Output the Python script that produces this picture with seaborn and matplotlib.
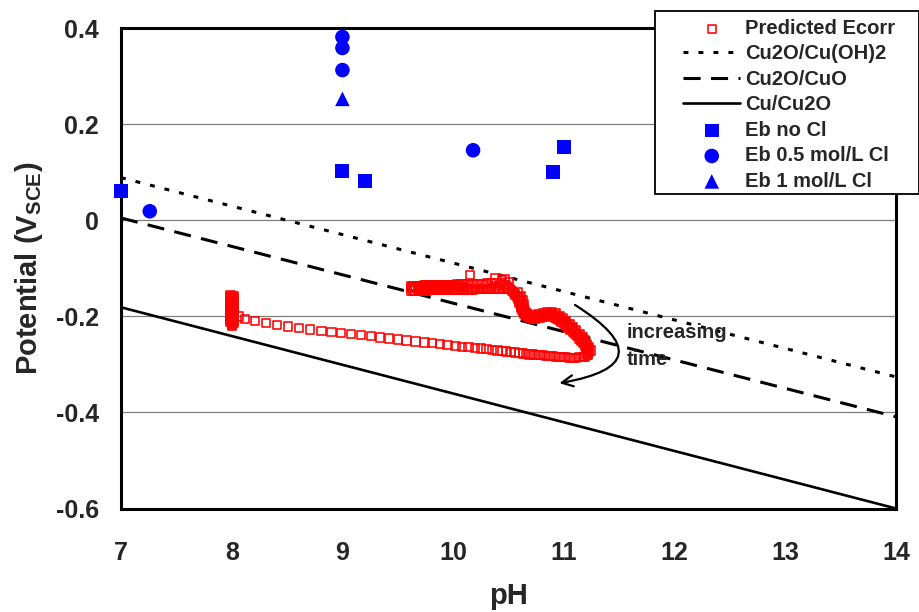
import numpy as np
import pandas as pd
import seaborn as sns
import matplotlib
matplotlib.use("Agg")
import matplotlib.pyplot as plt
from matplotlib.patches import Rectangle

# ---------------- data ----------------
ph_line = [7.0, 14.0]
cu_cu2o = [-0.181, -0.600]
cu2o_cuo = [0.005, -0.409]
cu2o_cuoh2 = [0.089, -0.326]

eb_nocl_ph = [7.0, 9.0, 9.2, 10.9, 11.0]
eb_nocl_v = [0.061, 0.103, 0.082, 0.100, 0.153]
eb_05_ph = [9.0, 9.0, 9.0, 7.26, 10.18]
eb_05_v = [0.382, 0.359, 0.313, 0.019, 0.146]
eb_1_ph = [9.0]
eb_1_v = [0.253]

# Predicted Ecorr
ec_a_ph = [7.99, 8.02, 7.99, 8.02, 7.99, 8.02, 7.99, 8.02, 7.99, 8.02, 7.99, 8.02, 7.99, 8.02, 7.99, 8.02,
           7.99, 8.02, 7.99, 8.02, 7.99, 8.02, 7.99, 8.02, 7.99, 8.02, 7.99, 8.02, 7.99, 8.02, 8.00, 8.00]
ec_a_v = [-0.156, -0.158, -0.160, -0.162, -0.164, -0.166, -0.168, -0.170, -0.172, -0.174, -0.176, -0.178,
          -0.180, -0.182, -0.184, -0.186, -0.188, -0.190, -0.192, -0.194, -0.196, -0.198, -0.200, -0.202,
          -0.204, -0.206, -0.208, -0.210, -0.212, -0.214, -0.216, -0.219]
ec_a2_ph = [8.005, 8.005, 8.005, 8.005, 8.005, 8.005, 8.005, 8.005, 8.005, 8.005, 8.005, 8.005, 8.005,
            8.005, 8.005, 8.005]
ec_a2_v = [-0.157, -0.161, -0.165, -0.169, -0.173, -0.177, -0.181, -0.185, -0.189, -0.193, -0.197, -0.201,
           -0.205, -0.209, -0.213, -0.217]
ec_b1_ph = [9.62, 9.64, 9.66, 9.68, 9.70, 9.72, 9.74, 9.76, 9.78, 9.80, 9.82, 9.84, 9.86, 9.88, 9.90, 9.92,
            9.94, 9.96, 9.98, 10.00, 10.02, 10.04, 10.07, 10.10, 10.13, 10.16, 10.19, 10.22, 10.25, 10.28,
            10.31, 10.34, 10.37, 10.15, 10.38]
ec_b1_v = [-0.136, -0.136, -0.136, -0.136, -0.136, -0.136, -0.135, -0.135, -0.135, -0.135, -0.135, -0.135,
           -0.135, -0.135, -0.134, -0.134, -0.134, -0.134, -0.134, -0.134, -0.134, -0.133, -0.133, -0.133,
           -0.133, -0.133, -0.132, -0.132, -0.132, -0.132, -0.131, -0.131, -0.131, -0.114, -0.120]
ec_b2_ph = [9.62, 9.64, 9.66, 9.68, 9.70, 9.72, 9.74, 9.76, 9.78, 9.80, 9.82, 9.84, 9.86, 9.88, 9.90, 9.92,
            9.94, 9.96, 9.98, 10.00, 10.02, 10.04, 10.06, 10.08, 10.10, 10.12, 10.14, 10.16, 10.18, 10.20,
            10.22, 10.24, 10.26, 10.28, 10.30, 10.32, 10.34, 10.36, 10.38, 10.40, 10.42, 10.44, 10.46]
ec_b2_v = [-0.146, -0.146, -0.146, -0.146, -0.146, -0.146, -0.146, -0.146, -0.145, -0.145, -0.145, -0.145,
           -0.145, -0.145, -0.145, -0.145, -0.145, -0.145, -0.145, -0.144, -0.144, -0.144, -0.144, -0.144,
           -0.144, -0.144, -0.144, -0.144, -0.144, -0.143, -0.143, -0.143, -0.143, -0.143, -0.143, -0.143,
           -0.143, -0.142, -0.142, -0.142, -0.142, -0.142, -0.142]
ec_b3_ph = [9.62, 9.64, 9.66, 9.68, 9.70, 9.72, 9.74, 9.76, 9.78, 9.80, 9.82, 9.84, 9.86, 9.88, 9.90, 9.92,
            9.94, 9.96, 9.98, 10.00, 10.02, 10.04, 10.06, 10.08, 10.10]
ec_b3_v = [-0.141, -0.141, -0.141, -0.141, -0.141, -0.141, -0.141, -0.141, -0.140, -0.140, -0.140, -0.140,
           -0.140, -0.140, -0.140, -0.140, -0.140, -0.140, -0.139, -0.139, -0.139, -0.139, -0.139, -0.139,
           -0.139]
ec_c_ph = [10.48, 10.50, 10.47, 10.44, 10.43, 10.46, 10.49, 10.51, 10.53, 10.55, 10.56, 10.58, 10.59, 10.60,
           10.60, 10.61, 10.61, 10.61, 10.62, 10.63, 10.64, 10.66, 10.68, 10.70, 10.72, 10.74, 10.76, 10.78,
           10.80, 10.82, 10.84, 10.86, 10.88, 10.90, 10.92, 10.94, 10.96, 10.98, 11.00, 11.02, 11.04, 11.06,
           11.08, 11.10, 11.12, 11.14, 11.16, 11.17, 11.19, 11.20, 11.21, 11.22, 11.21, 11.19]
ec_c_v = [-0.135, -0.128, -0.123, -0.125, -0.130, -0.135, -0.140, -0.143, -0.147, -0.151, -0.155, -0.159,
          -0.163, -0.167, -0.171, -0.175, -0.179, -0.183, -0.187, -0.191, -0.195, -0.198, -0.201, -0.203,
          -0.204, -0.204, -0.203, -0.202, -0.201, -0.200, -0.199, -0.199, -0.199, -0.200, -0.202, -0.205,
          -0.208, -0.211, -0.215, -0.219, -0.223, -0.227, -0.232, -0.236, -0.241, -0.246, -0.251, -0.256,
          -0.261, -0.266, -0.271, -0.276, -0.280, -0.284]
ec_c2_ph = [10.58, 10.61, 10.63, 10.64, 10.64, 10.65, 10.67, 10.70, 10.73, 10.77, 10.81, 10.85, 10.89,
            10.93, 10.96, 10.99, 11.02, 11.05, 11.08, 11.11, 11.14, 11.17, 11.19, 11.21, 11.23, 11.24]
ec_c2_v = [-0.150, -0.158, -0.166, -0.174, -0.182, -0.189, -0.194, -0.197, -0.198, -0.196, -0.194, -0.192,
           -0.192, -0.194, -0.199, -0.204, -0.210, -0.216, -0.222, -0.229, -0.236, -0.243, -0.250, -0.257,
           -0.264, -0.271]
ec_c3_ph = [10.56, 10.59, 10.61, 10.62, 10.63, 10.64, 10.66, 10.69, 10.72, 10.76, 10.80, 10.84, 10.88,
            10.92, 10.95, 10.98, 11.01, 11.04, 11.07, 11.10, 11.13, 11.16, 11.18, 11.20, 11.22, 11.23, 11.22]
ec_c3_v = [-0.153, -0.160, -0.168, -0.176, -0.184, -0.191, -0.196, -0.200, -0.201, -0.200, -0.198, -0.196,
           -0.195, -0.197, -0.201, -0.207, -0.212, -0.219, -0.225, -0.232, -0.239, -0.246, -0.253, -0.260,
           -0.267, -0.274, -0.281]
ec_d_ph = [11.17, 11.14, 11.11, 11.08, 11.05, 11.02, 10.99, 10.96, 10.93, 10.90, 10.87, 10.84, 10.81, 10.78,
           10.75, 10.72, 10.69, 10.66, 10.63, 10.60, 10.56, 10.52, 10.48, 10.44, 10.40, 10.35, 10.30, 10.25,
           10.20, 10.14, 10.08, 10.02, 9.95, 9.88, 9.81, 9.74, 9.66, 9.58, 9.50, 9.42, 9.34, 9.26, 9.17,
           9.08, 8.99, 8.90, 8.81, 8.71, 8.61, 8.51, 8.41, 8.31, 8.21, 8.12, 8.06]
ec_d_v = [-0.285, -0.285, -0.286, -0.286, -0.286, -0.285, -0.285, -0.284, -0.284, -0.283, -0.283, -0.282,
          -0.281, -0.281, -0.280, -0.279, -0.279, -0.278, -0.277, -0.276, -0.275, -0.274, -0.273, -0.272,
          -0.271, -0.270, -0.268, -0.267, -0.266, -0.264, -0.263, -0.261, -0.259, -0.258, -0.256, -0.254,
          -0.252, -0.250, -0.248, -0.246, -0.244, -0.241, -0.239, -0.237, -0.235, -0.233, -0.230, -0.227,
          -0.224, -0.221, -0.218, -0.214, -0.210, -0.205, -0.200]

x_ticks = [7, 8, 9, 10, 11, 12, 13, 14]
y_ticks = [-0.6, -0.4, -0.2, 0.0, 0.2, 0.4]
y_tick_labels = ["-0.6", "-0.4", "-0.2", "0", "0.2", "0.4"]

# ---------------- style ----------------
sns.set_style("white")
plt.rcParams["font.family"] = ["Liberation Sans", "DejaVu Sans"]
plt.rcParams["font.weight"] = "bold"
plt.rcParams["mathtext.fontset"] = "custom"
plt.rcParams["mathtext.rm"] = "Liberation Sans:bold"
plt.rcParams["mathtext.bf"] = "Liberation Sans:bold"

W, H = 919, 612
fig = plt.figure(figsize=(W / 100, H / 100), dpi=100)
ax = fig.add_axes([121 / W, 1 - 508.5 / H, (896 - 121) / W, (508.5 - 28.3) / H])

ecorr = pd.DataFrame({
    "ph": ec_a_ph + ec_a2_ph + ec_b1_ph + ec_b2_ph + ec_b3_ph + ec_c_ph + ec_c2_ph + ec_c3_ph + ec_d_ph,
    "v": ec_a_v + ec_a2_v + ec_b1_v + ec_b2_v + ec_b3_v + ec_c_v + ec_c2_v + ec_c3_v + ec_d_v,
})

# lines
sns.lineplot(x=ph_line, y=cu2o_cuoh2, ax=ax, color="black", linewidth=2.2, label="Cu2O/Cu(OH)2")
ax.lines[-1].set_linestyle((0, (1.6, 3.3)))
sns.lineplot(x=ph_line, y=cu2o_cuo, ax=ax, color="black", linewidth=2.2, label="Cu2O/CuO")
ax.lines[-1].set_linestyle((0, (5.6, 3.4)))
sns.lineplot(x=ph_line, y=cu_cu2o, ax=ax, color="black", linewidth=1.9, label="Cu/Cu2O")

sns.scatterplot(data=ecorr, x="ph", y="v", ax=ax, marker="s", s=36, facecolors="none",
                edgecolors="#ff0000", linewidths=1.15, label="Predicted Ecorr", zorder=4)
sns.scatterplot(x=eb_nocl_ph, y=eb_nocl_v, ax=ax, marker="s", s=100, color="#0000ff",
                edgecolor="none", label="Eb no Cl", zorder=5, clip_on=False)
sns.scatterplot(x=eb_05_ph, y=eb_05_v, ax=ax, marker="o", s=110, color="#0000ff",
                edgecolor="none", label="Eb 0.5 mol/L Cl", zorder=5, clip_on=False)
sns.scatterplot(x=eb_1_ph, y=eb_1_v, ax=ax, marker="^", s=110, color="#0000ff",
                edgecolor="none", label="Eb 1 mol/L Cl", zorder=5, clip_on=False)

# axes
ax.set_xlim(7, 14)
ax.set_ylim(-0.6, 0.4)
ax.set_xticks(x_ticks)
ax.set_xticklabels([str(t) for t in x_ticks])
ax.set_yticks(y_ticks)
ax.set_yticklabels(y_tick_labels)
ax.yaxis.grid(True, color="#7f7f7f", linewidth=0.9)
ax.set_axisbelow(True)
for sp in ax.spines.values():
    sp.set_visible(True)
    sp.set_color("black")
    sp.set_linewidth(2.2)
ax.tick_params(axis="x", direction="out", length=6.5, width=0.8, color="black", pad=17,
               labelsize=18)
ax.tick_params(axis="y", direction="out", length=5, width=0.8, color="black", pad=11,
               labelsize=18)
for lab in ax.get_xticklabels() + ax.get_yticklabels():
    lab.set_fontweight("bold")
ax.set_xlabel("pH", fontsize=21, fontweight="bold", labelpad=12)
ax.set_ylabel(r"Potential (V$_{\mathrm{SCE}}$)", fontsize=21, fontweight="bold", labelpad=8)

# annotation
ax.annotate("", xy=(10.96, -0.339), xytext=(11.10, -0.176),
            arrowprops=dict(arrowstyle="->,head_length=0.8,head_width=0.4",
                            connectionstyle="arc3,rad=-1.3", lw=1.6, color="black",
                            shrinkA=0, shrinkB=0))
ax.text(11.567, -0.245, "increasing", fontsize=14.5, fontweight="bold", ha="left", va="baseline")
ax.text(11.567, -0.3015, "time", fontsize=14.5, fontweight="bold", ha="left", va="baseline")

# legend
handles, labels = ax.get_legend_handles_labels()
order = ["Predicted Ecorr", "Cu2O/Cu(OH)2", "Cu2O/CuO", "Cu/Cu2O", "Eb no Cl", "Eb 0.5 mol/L Cl", "Eb 1 mol/L Cl"]
hmap = dict(zip(labels, handles))
frame = Rectangle((655 / W, 1 - 194 / H), (919 - 655) / W, (194 - 11) / H, transform=fig.transFigure,
                  facecolor="white", edgecolor="black", linewidth=1.3, zorder=10)
fig.patches.append(frame)
leg = fig.legend([hmap[k] for k in order], order, loc="upper left",
                 bbox_to_anchor=(676 / W, 1 - 12 / H), frameon=False, borderpad=0.35,
                 borderaxespad=0, handlelength=2.85, handletextpad=0.25,
                 labelspacing=0.32, scatterpoints=1, prop={"weight": "bold", "size": 14.5})
leg.set_zorder(11)
if ax.get_legend() is not None:
    ax.get_legend().remove()

fig.savefig("out.png", dpi=100)
